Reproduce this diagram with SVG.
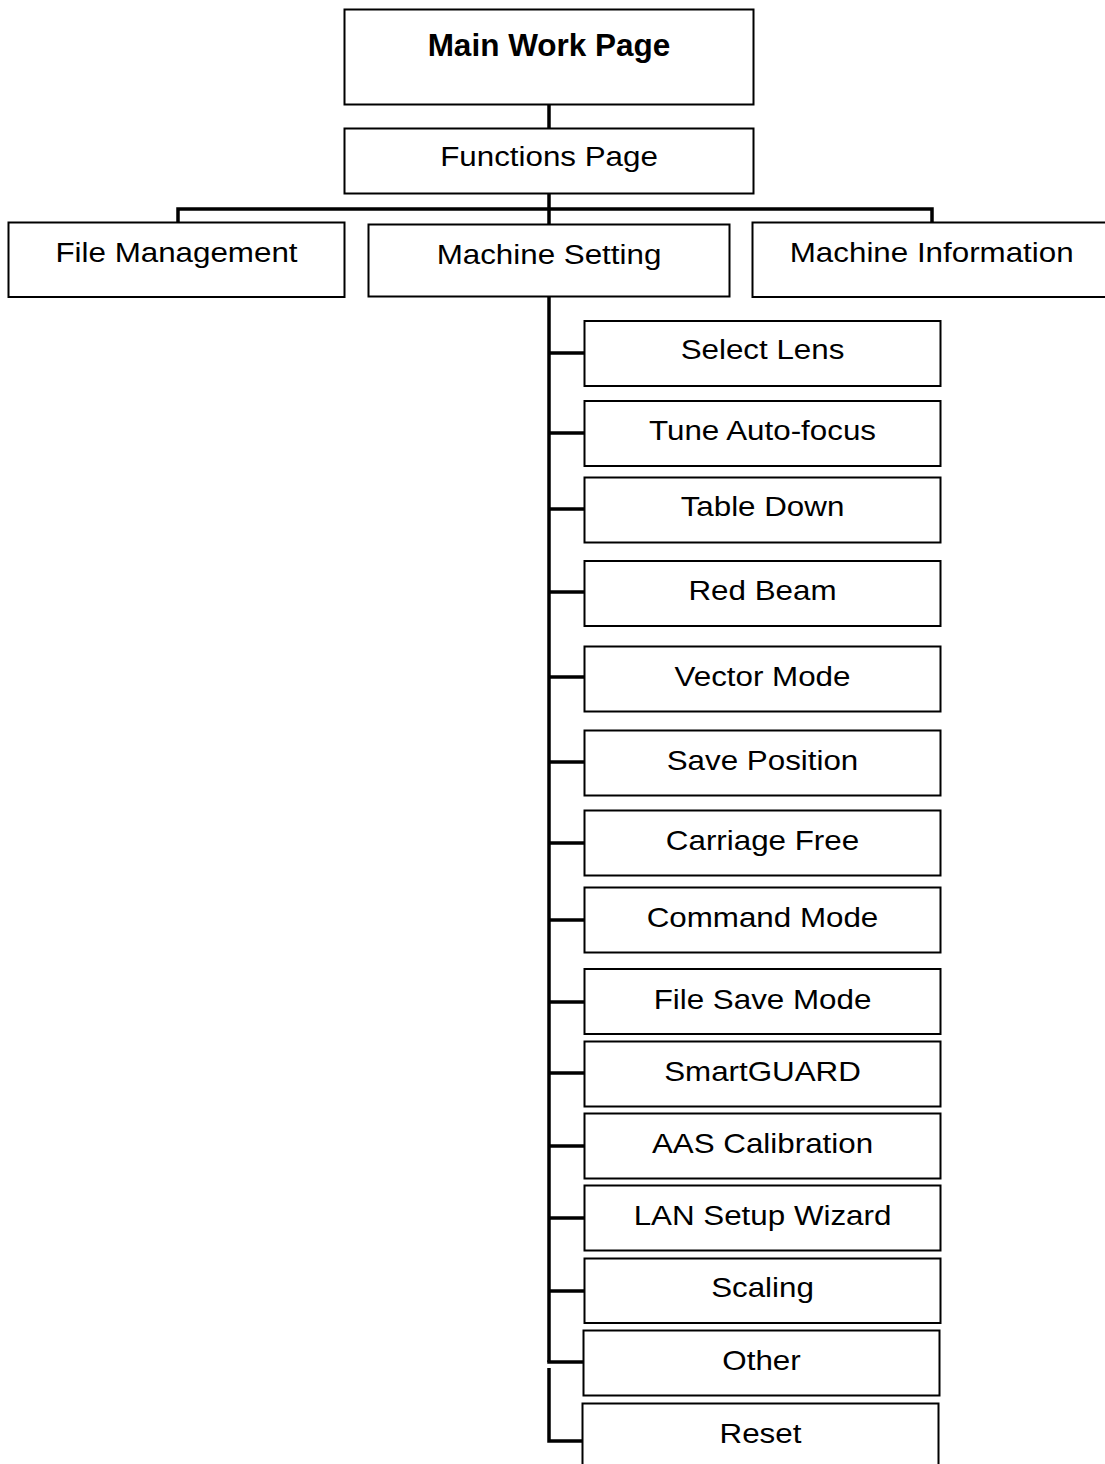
<svg xmlns="http://www.w3.org/2000/svg" width="1105" height="1464" viewBox="0 0 1105 1464">
<style>
.box{fill:#fff;stroke:#000;stroke-width:2}
.t{font-family:"Liberation Sans",Arial,sans-serif;font-size:28.5px;text-anchor:middle;fill:#000}
.b{font-family:"Liberation Sans",Arial,sans-serif;font-size:31.5px;font-weight:bold;text-anchor:middle;fill:#000}
.c{fill:none;stroke:#000;stroke-width:3.5}
</style>
<rect width="1105" height="1464" fill="#fff"/>
<g id="connectors">
<line class="c" x1="549" y1="105" x2="549" y2="128"/>
<line class="c" x1="549" y1="193" x2="549" y2="224"/>
<polyline class="c" points="178,222 178,209 932,209 932,222"/>
<line class="c" x1="549" y1="297" x2="549" y2="1362"/>
<line class="c" x1="547.25" y1="1362" x2="583" y2="1362"/>
<line class="c" x1="549" y1="353" x2="584" y2="353"/>
<line class="c" x1="549" y1="433" x2="584" y2="433"/>
<line class="c" x1="549" y1="509" x2="584" y2="509"/>
<line class="c" x1="549" y1="592" x2="584" y2="592"/>
<line class="c" x1="549" y1="677" x2="584" y2="677"/>
<line class="c" x1="549" y1="762" x2="584" y2="762"/>
<line class="c" x1="549" y1="843" x2="584" y2="843"/>
<line class="c" x1="549" y1="920" x2="584" y2="920"/>
<line class="c" x1="549" y1="1002" x2="584" y2="1002"/>
<line class="c" x1="549" y1="1073" x2="584" y2="1073"/>
<line class="c" x1="549" y1="1146" x2="584" y2="1146"/>
<line class="c" x1="549" y1="1218" x2="584" y2="1218"/>
<line class="c" x1="549" y1="1291" x2="584" y2="1291"/>
<polyline class="c" points="549,1368 549,1441 582,1441"/>
</g>
<g id="main-work-page"><rect class="box" x="344.5" y="9.5" width="409" height="95"/><text class="b" x="549" y="56">Main Work Page</text></g>
<g id="functions-page"><rect class="box" x="344.5" y="128.5" width="409" height="65"/><text class="t" transform="translate(549,166) scale(1.1,1)">Functions Page</text></g>
<g id="file-management"><rect class="box" x="8.5" y="222.5" width="336" height="74.5"/><text class="t" transform="translate(176.5,262) scale(1.1,1)">File Management</text></g>
<g id="machine-setting"><rect class="box" x="368.5" y="224.5" width="361" height="72"/><text class="t" transform="translate(549,264) scale(1.1,1)">Machine Setting</text></g>
<g id="machine-information"><rect class="box" x="752.5" y="222.5" width="360" height="74.5"/><text class="t" transform="translate(931.7,262) scale(1.1,1)">Machine Information</text></g>
<g id="select-lens"><rect class="box" x="584.5" y="321" width="356" height="65"/><text class="t" transform="translate(762.5,359) scale(1.1,1)">Select Lens</text></g>
<g id="tune-auto-focus"><rect class="box" x="584.5" y="401" width="356" height="65"/><text class="t" transform="translate(762.5,439.5) scale(1.1,1)">Tune Auto-focus</text></g>
<g id="table-down"><rect class="box" x="584.5" y="477.5" width="356" height="65"/><text class="t" transform="translate(762.5,515.5) scale(1.1,1)">Table Down</text></g>
<g id="red-beam"><rect class="box" x="584.5" y="561" width="356" height="65"/><text class="t" transform="translate(762.5,600) scale(1.1,1)">Red Beam</text></g>
<g id="vector-mode"><rect class="box" x="584.5" y="646.5" width="356" height="65"/><text class="t" transform="translate(762.5,686) scale(1.1,1)">Vector Mode</text></g>
<g id="save-position"><rect class="box" x="584.5" y="730.5" width="356" height="65"/><text class="t" transform="translate(762.5,770) scale(1.1,1)">Save Position</text></g>
<g id="carriage-free"><rect class="box" x="584.5" y="810.5" width="356" height="65"/><text class="t" transform="translate(762.5,849.5) scale(1.1,1)">Carriage Free</text></g>
<g id="command-mode"><rect class="box" x="584.5" y="887.5" width="356" height="65"/><text class="t" transform="translate(762.5,926.5) scale(1.1,1)">Command Mode</text></g>
<g id="file-save-mode"><rect class="box" x="584.5" y="969" width="356" height="65"/><text class="t" transform="translate(762.5,1008.5) scale(1.1,1)">File Save Mode</text></g>
<g id="smartguard"><rect class="box" x="584.5" y="1041.5" width="356" height="65"/><text class="t" transform="translate(762.5,1081) scale(1.1,1)">SmartGUARD</text></g>
<g id="aas-calibration"><rect class="box" x="584.5" y="1113.5" width="356" height="65"/><text class="t" transform="translate(762.5,1153) scale(1.1,1)">AAS Calibration</text></g>
<g id="lan-setup-wizard"><rect class="box" x="584.5" y="1185.5" width="356" height="65"/><text class="t" transform="translate(762.5,1225) scale(1.1,1)">LAN Setup Wizard</text></g>
<g id="scaling"><rect class="box" x="584.5" y="1258.5" width="356" height="64.5"/><text class="t" transform="translate(762.5,1296.5) scale(1.1,1)">Scaling</text></g>
<g id="other"><rect class="box" x="583.5" y="1330.5" width="356" height="65"/><text class="t" transform="translate(761.5,1369.5) scale(1.1,1)">Other</text></g>
<g id="reset"><rect class="box" x="582.5" y="1403.5" width="356" height="70"/><text class="t" transform="translate(760.5,1442.5) scale(1.1,1)">Reset</text></g>
</svg>
